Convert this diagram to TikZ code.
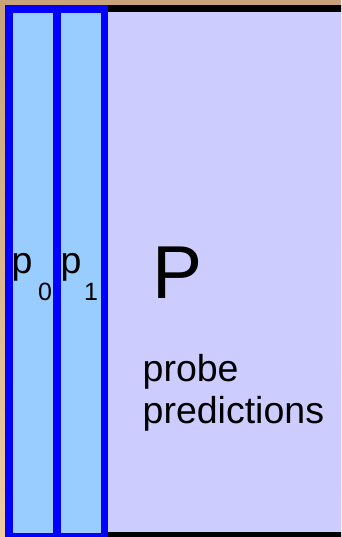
\documentclass[tikz,border=0pt]{standalone}
\usepackage{fontspec}
\setmainfont{Liberation Sans}
\definecolor{tantop}{RGB}{200,162,122}
\definecolor{tanbot}{RGB}{240,202,160}
\definecolor{pfill}{RGB}{204,204,255}
\definecolor{colfill}{RGB}{153,204,255}
\definecolor{colline}{RGB}{0,0,255}
\tikzset{
  colbox/.style={draw=colline, line width=7.5pt, fill=colfill},
  mainlbl/.style={anchor=base west, inner sep=0pt, font=\fontsize{37.5}{42}\selectfont},
  sublbl/.style={anchor=base west, inner sep=0pt, font=\fontsize{25}{30}\selectfont},
  biglbl/.style={anchor=base west, inner sep=0pt, font=\fontsize{75}{80}\selectfont},
}
\begin{document}
\begin{tikzpicture}[x=1pt, y=-1pt]
\useasboundingbox (0,0) rectangle (341,537);
\clip (0,0) rectangle (341,537);
\shade[top color=tantop, bottom color=tanbot] (0,0) rectangle (341,537);
\draw[black, line width=7pt, fill=pfill] (9,8.5) rectangle (360,535.5);
\draw[colbox] (9,8.8) rectangle (57,537);
\draw[colbox] (57,8.8) rectangle (104.5,537);
\node[mainlbl] (p0) at (11.5,273) {p};
\node[sublbl] (s0) at (38,300) {0};
\node[mainlbl] (p1) at (60.5,273) {p};
\node[sublbl] (s1) at (84,300) {1};
\node[biglbl] (P) at (152,298) {P};
\node[mainlbl] (probe) at (142.5,381) {probe};
\node[mainlbl] (pred) at (142.5,423) {predictions};
\end{tikzpicture}
\end{document}
